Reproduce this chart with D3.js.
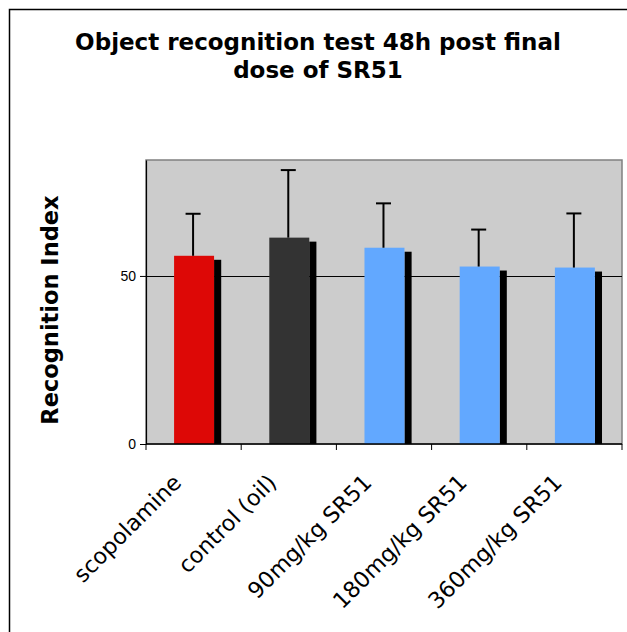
<!DOCTYPE html>
<html>
<head>
<meta charset="utf-8">
<script src="https://cdn.jsdelivr.net/npm/d3@7"></script>
<style>
  html, body { margin: 0; padding: 0; background: #fff; }
  svg { display: block; }
</style>
</head>
<body>
<script>
// ---- data ----
const categories = ["scopolamine", "control (oil)", "90mg/kg SR51", "180mg/kg SR51", "360mg/kg SR51"];
const means = [56.0, 61.4, 58.4, 52.8, 52.5];
const errors = [12.5, 20.1, 13.2, 11.0, 16.1];
const barColors = ["#DD0806", "#333333", "#62A8FF", "#62A8FF", "#62A8FF"];
const yTicks = [0, 50];
const yMax = 84.5;
const titleLines = ["Object recognition test 48h post final", "dose of SR51"];
const yLabel = "Recognition Index";

// ---- layout ----
const W = 627, H = 632;
const plot = { left: 146, right: 622, top: 160, bottom: 444 };

const svg = d3.select("body").append("svg").attr("width", W).attr("height", H);

// outer chart border (extends beyond viewport)
svg.append("rect").attr("x", 9.5).attr("y", 9.5).attr("width", 700).attr("height", 700)
  .attr("fill", "#fff").attr("stroke", "#000").attr("stroke-width", 1.5);

const x = d3.scaleBand().domain(categories).range([plot.left, plot.right]).paddingInner(0).paddingOuter(0);
const y = d3.scaleLinear().domain([0, yMax]).range([plot.bottom, plot.top]);

// plot background
svg.append("rect").attr("x", plot.left).attr("y", plot.top)
  .attr("width", plot.right - plot.left).attr("height", plot.bottom - plot.top)
  .attr("fill", "#CCCCCC").attr("stroke", "#808080").attr("stroke-width", 1.5);

// gridlines
svg.append("g").selectAll("line").data(yTicks.filter(d => d > 0)).join("line")
  .attr("x1", plot.left).attr("x2", plot.right)
  .attr("y1", d => Math.round(y(d)) + 0.5).attr("y2", d => Math.round(y(d)) + 0.5)
  .attr("stroke", "#000").attr("stroke-width", 1);

const bw = x.bandwidth();
const barOff = bw * 0.295, barW = bw * 0.42, shW = bw * 0.075, shDy = 4;
const idx = categories.map((c, i) => i);

// shadows
svg.append("g").selectAll("rect").data(idx).join("rect")
  .attr("x", i => x(categories[i]) + barOff + barW)
  .attr("y", i => y(means[i]) + shDy)
  .attr("width", shW)
  .attr("height", i => plot.bottom - y(means[i]) - shDy)
  .attr("fill", "#000");

// bars
svg.append("g").selectAll("rect").data(idx).join("rect")
  .attr("x", i => x(categories[i]) + barOff)
  .attr("y", i => y(means[i]))
  .attr("width", barW)
  .attr("height", i => plot.bottom - y(means[i]))
  .attr("fill", i => barColors[i]);

// error bars
const eg = svg.append("g").attr("stroke", "#000").attr("stroke-width", 2);
idx.forEach(i => {
  const cx = x(categories[i]) + barOff + barW / 2 - 1;
  const y0 = y(means[i]), y1 = y(means[i] + errors[i]);
  eg.append("line").attr("x1", cx).attr("x2", cx).attr("y1", y0).attr("y2", y1);
  eg.append("line").attr("x1", cx - 7.5).attr("x2", cx + 7.5).attr("y1", y1).attr("y2", y1);
});

// y axis
const yAxis = d3.axisLeft(y).tickValues(yTicks).tickSizeInner(6).tickSizeOuter(0).tickPadding(4).tickFormat(d3.format("d"));
const yg = svg.append("g").attr("transform", `translate(${plot.left},0)`).call(yAxis);
yg.attr("font-size", null).attr("font-family", null);
yg.select(".domain").attr("stroke", "#000").attr("stroke-width", 1.2);
yg.selectAll(".tick line").attr("stroke", "#000");
yg.selectAll(".tick text").attr("font-family", "Liberation Sans, Arial, sans-serif")
  .attr("font-size", 14).attr("fill", "#000");

// x axis
const xg = svg.append("g").attr("transform", `translate(0,${plot.bottom})`);
xg.append("line").attr("x1", plot.left).attr("x2", plot.right).attr("y1", 0).attr("y2", 0)
  .attr("stroke", "#000").attr("stroke-width", 1.5);
const bounds = categories.map(c => x(c)).concat([plot.right]);
xg.selectAll("line.tk").data(bounds).join("line").attr("class", "tk")
  .attr("x1", d => d).attr("x2", d => d).attr("y1", 0).attr("y2", 6)
  .attr("stroke", "#000").attr("stroke-width", 1);
xg.selectAll("text").data(categories).join("text")
  .attr("transform", d => `translate(${x(d) + bw / 2 - 11},${40}) rotate(-45)`)
  .attr("text-anchor", "end")
  .attr("font-family", "DejaVu Sans, Verdana, sans-serif")
  .attr("font-size", 22.3)
  .attr("fill", "#000")
  .text(d => d);

// title
svg.append("g").selectAll("text").data(titleLines).join("text")
  .attr("x", 318).attr("y", (d, i) => 50 + i * 28)
  .attr("text-anchor", "middle")
  .attr("font-family", "DejaVu Sans, Verdana, sans-serif")
  .attr("font-weight", "bold").attr("font-size", 23)
  .attr("fill", "#000")
  .text(d => d);

// y label
svg.append("text")
  .attr("transform", `translate(58,310) rotate(-90)`)
  .attr("text-anchor", "middle")
  .attr("font-family", "DejaVu Sans, Verdana, sans-serif")
  .attr("font-weight", "bold").attr("font-size", 22.5)
  .attr("fill", "#000")
  .text(yLabel);
</script>
</body>
</html>
